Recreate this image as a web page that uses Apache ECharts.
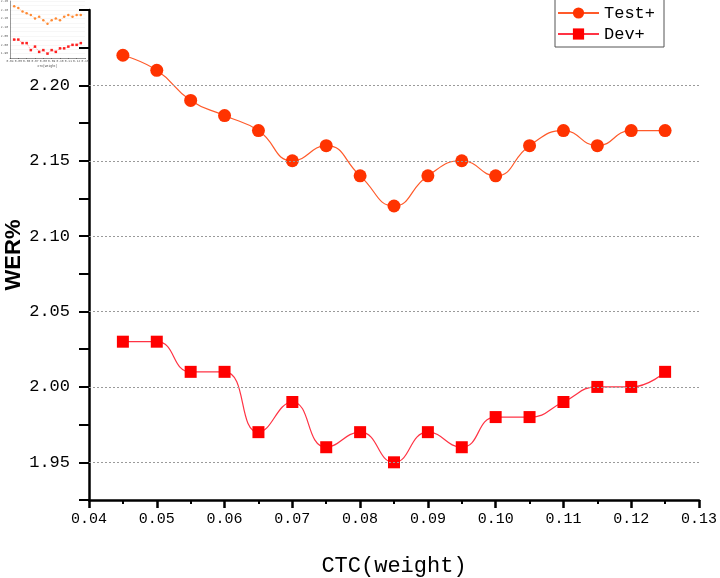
<!DOCTYPE html>
<html>
<head>
<meta charset="utf-8">
<script src="https://cdn.jsdelivr.net/npm/echarts@6/dist/echarts.min.js"></script>
<style>
  html, body { margin: 0; padding: 0; background: #fff; }
  #chart { width: 720px; height: 578px; }
</style>
</head>
<body>
<div id="chart"></div>
<script>
const weights = [0.045, 0.05, 0.055, 0.06, 0.065, 0.07, 0.075, 0.08, 0.085, 0.09, 0.095, 0.1, 0.105, 0.11, 0.115, 0.12, 0.125];
const testPlus = [2.22, 2.21, 2.19, 2.18, 2.17, 2.15, 2.16, 2.14, 2.12, 2.14, 2.15, 2.14, 2.16, 2.17, 2.16, 2.17, 2.17];
const devPlus = [2.03, 2.03, 2.01, 2.01, 1.97, 1.99, 1.96, 1.97, 1.95, 1.97, 1.96, 1.98, 1.98, 1.99, 2.0, 2.0, 2.01];
const gridValues = [1.95, 2.0, 2.05, 2.1, 2.15, 2.2];

const mono = "Liberation Mono, DejaVu Sans Mono, monospace";

function pairs(values) {
  return weights.map((w, i) => [w, values[i]]);
}

const chart = echarts.init(document.getElementById("chart"));

chart.setOption({
  animation: false,
  backgroundColor: "#fff",
  textStyle: { fontFamily: mono },
  grid: [
    { left: 89, right: 21, top: 10, bottom: 78, outerBoundsMode: "none", containLabel: false },
    // small copy of the chart sitting in the top-left corner
    { left: 10, top: 1, width: 75, height: 57, outerBoundsMode: "none", containLabel: false },
  ],
  legend: {
    left: 555,
    top: -1,
    orient: "vertical",
    borderColor: "#555",
    borderWidth: 1,
    padding: [4, 9, 3, 2],
    itemGap: 1,
    itemWidth: 41,
    itemHeight: 14,
    textStyle: { fontFamily: mono, fontSize: 17, color: "#000", lineHeight: 20 },
    data: ["Test+", "Dev+"],
  },
  xAxis: [
    {
      type: "value",
      min: 0.04,
      max: 0.13,
      interval: 0.01,
      name: "CTC(weight)",
      nameLocation: "middle",
      nameGap: 55,
      nameMoveOverlap: false,
      nameTextStyle: { fontFamily: mono, fontSize: 22, color: "#000" },
      axisLine: { lineStyle: { color: "#000", width: 2.5 } },
      axisTick: { length: 8, lineStyle: { width: 2.5, color: "#000" } },
      minorTick: { show: true, splitNumber: 2, length: 4, lineStyle: { width: 2, color: "#000" } },
      axisLabel: {
        margin: 12,
        fontSize: 15,
        color: "#000",
        formatter: (v) => v.toFixed(2),
      },
      splitLine: { show: false },
    },
    {
      gridIndex: 1,
      type: "value",
      min: 0.04,
      max: 0.13,
      interval: 0.01,
      name: "CTC(weight)",
      nameLocation: "middle",
      nameGap: 7,
      nameTextStyle: { fontSize: 3, color: "#444" },
      axisLine: { lineStyle: { color: "#333", width: 0.5 } },
      axisTick: { length: 1, lineStyle: { width: 0.5 } },
      axisLabel: { margin: 2, fontSize: 3, color: "#555", formatter: (v) => v.toFixed(2) },
      splitLine: { show: false },
    },
  ],
  yAxis: [
    {
      type: "value",
      min: 1.925,
      max: 2.25,
      interval: 0.025,
      name: "WER%",
      nameLocation: "middle",
      nameGap: 64,
      nameMoveOverlap: false,
      nameTextStyle: { fontFamily: "Liberation Sans, Arial, sans-serif", fontWeight: "bold", fontSize: 22, color: "#000" },
      axisLine: { show: true, lineStyle: { color: "#000", width: 2.5 } },
      axisTick: { show: true, length: 10, lineStyle: { width: 2, color: "#000" } },
      axisLabel: {
        margin: 19,
        fontSize: 17,
        color: "#000",
        formatter: (v) => {
          const k = Math.round(v * 1000);
          return k % 50 === 0 && k < 2240 ? v.toFixed(2) : "";
        },
      },
      splitLine: { show: false },
    },
    {
      gridIndex: 1,
      type: "value",
      min: 1.925,
      max: 2.25,
      interval: 0.025,
      axisLine: { show: true, lineStyle: { color: "#333", width: 0.5 } },
      axisTick: { show: false },
      axisLabel: {
        margin: 2,
        fontSize: 3,
        color: "#555",
        formatter: (v) => (Math.round(v * 1000) % 50 === 0 ? v.toFixed(2) : ""),
      },
      splitLine: { show: true, lineStyle: { color: "#eee", width: 0.5 } },
    },
  ],
  series: [
    {
      name: "Test+",
      type: "line",
      smooth: 0.5,
      symbol: "circle",
      symbolSize: 13,
      itemStyle: { color: "#ff3300" },
      lineStyle: { color: "#ff5a2a", width: 1.2 },
      data: pairs(testPlus),
      markLine: {
        silent: true,
        symbol: "none",
        label: { show: false },
        lineStyle: { color: "#9a9a9a", type: [2, 2], width: 1 },
        data: gridValues.map((v) => ({ yAxis: v })),
      },
      z: 3,
    },
    {
      name: "Dev+",
      type: "line",
      smooth: 0.5,
      symbol: "rect",
      symbolSize: 12,
      itemStyle: { color: "#ff0000" },
      lineStyle: { color: "#ff3344", width: 1.2 },
      data: pairs(devPlus),
      z: 3,
    },
    {
      name: "Test+ mini",
      type: "line",
      xAxisIndex: 1,
      yAxisIndex: 1,
      symbol: "circle",
      symbolSize: 2.5,
      itemStyle: { color: "#ff8a33" },
      lineStyle: { color: "#ffb27a", width: 0.5, type: "dashed" },
      data: pairs(testPlus),
    },
    {
      name: "Dev+ mini",
      type: "line",
      xAxisIndex: 1,
      yAxisIndex: 1,
      symbol: "rect",
      symbolSize: 2.5,
      itemStyle: { color: "#ff2020" },
      lineStyle: { color: "#ff7070", width: 0.5, type: "dashed" },
      data: pairs(devPlus),
    },
  ],
});
</script>
</body>
</html>
